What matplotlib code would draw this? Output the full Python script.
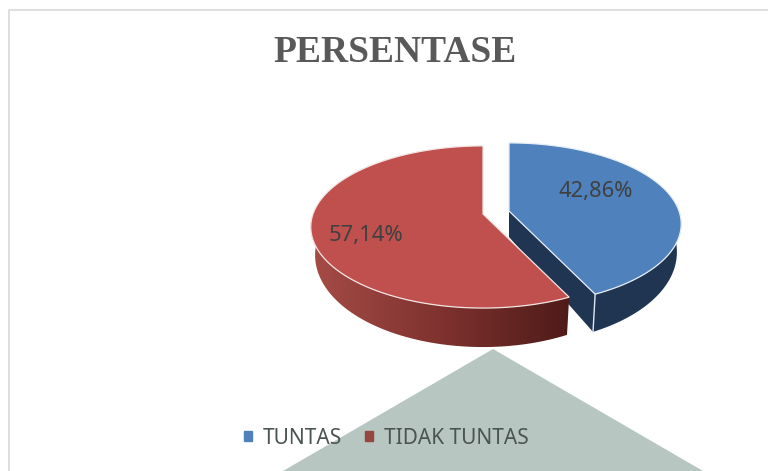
import matplotlib
matplotlib.use('Agg')
import matplotlib.pyplot as plt
from matplotlib.patches import Polygon, Patch
from matplotlib.colors import LinearSegmentedColormap
import numpy as np

categories = ['TUNTAS', 'TIDAK TUNTAS']
values = [42.86, 57.14]
labels = ['42,86%', '57,14%']
title = 'PERSENTASE'

# perspective of the tilted disc, in image pixels
K = 0.16
A = 79.0
B = 170.0


def rim(t, apex):
    # t in degrees clockwise from the back of the disc
    t = np.radians(t)
    u, v = np.sin(t), -np.cos(t)
    d = 1 - K * v
    return apex[0] + B * u / d, apex[1] + A * v / d


def under(t, apex):
    # same rim point on the lower face of the slab
    x, y = rim(t, apex)
    v = -np.cos(np.radians(t))
    return apex[0] + (x - apex[0]) * 0.975, y + 26 + 13 * v


fig = plt.figure(figsize=(7.68, 4.71), dpi=100)
ax = fig.add_axes([0, 0, 1, 1])
ax.set_xlim(0, 768)
ax.set_ylim(471, 0)
ax.axis('off')

# frame and the grey shape behind the chart
ax.plot([8.5, 8.5, 768], [471, 9.5, 9.5], color='#d9d9d9', lw=1.2)
ax.add_patch(Polygon([(493, 349), (703, 471), (283, 471)], fc='#b8c6c1', ec='none'))

end = 360 * values[0] / sum(values)
blue_apex = (509, 211)
red_apex = (483, 214)

# blue slice
ts = np.linspace(0, end, 120)
side = np.linspace(84, end, 80)
x, y = rim(side, blue_apex)
xb, yb = under(side, blue_apex)
ax.add_patch(Polygon(np.r_[np.c_[x, y], np.c_[xb, yb][::-1]], fc='#1f3552', ec='none'))
ex, ey = rim(end, blue_apex)
ebx, eby = under(end, blue_apex)
ax.add_patch(Polygon([blue_apex, (ex, ey), (ebx, eby), (blue_apex[0], blue_apex[1] + 26)],
                     fc='#1f3552', ec='none'))
ax.plot([ex, ebx], [ey, eby], color='#dfe6ee', lw=1)
x, y = rim(ts, blue_apex)
ax.add_patch(Polygon(np.r_[[blue_apex], np.c_[x, y]], fc='#4f81bd', ec='#e8eef5', lw=0.9))

# red slice, side wall shaded from left to right
ts = np.linspace(end, 360, 160)
side = np.linspace(end, 272, 100)
x, y = rim(side, red_apex)
xb, yb = under(side, red_apex)
wall = Polygon(np.r_[np.c_[x, y], np.c_[xb, yb][::-1]], fc='none', ec='none')
ax.add_patch(wall)
cmap = LinearSegmentedColormap.from_list('wall', ['#a64c47', '#7f322f', '#4e1b18'])
im = ax.imshow(np.linspace(0, 1, 256)[None, :], cmap=cmap, aspect='auto',
               extent=(x.min() - 2, x.max() + 1, 471, 0), zorder=1.5)
im.set_clip_path(wall)
ax.set_xlim(0, 768)
ax.set_ylim(471, 0)
x, y = rim(ts, red_apex)
ax.add_patch(Polygon(np.r_[[red_apex], np.c_[x, y]], fc='#c0504d', ec='#f2e4e3', lw=0.9, zorder=2))

# value labels
ax.text(596, 191, labels[0], ha='center', va='center', fontsize=15.8,
        family='Noto Sans', color='#404040', zorder=3)
ax.text(366, 236, labels[1], ha='center', va='center', fontsize=15.8,
        family='Noto Sans', color='#404040', zorder=3)

ax.text(395, 53, title, ha='center', va='center', fontsize=27, fontweight='bold',
        family='Liberation Serif', color='#595959')

handles = [Patch(color='#4f81bd', label=categories[0]), Patch(color='#94463f', label=categories[1])]
ax.legend(handles=handles, ncol=2, frameon=False, loc='center', bbox_to_anchor=(386.5, 438),
          bbox_transform=ax.transData, prop={'family': 'Noto Sans', 'size': 15},
          labelcolor='#4a5452', handlelength=0.35, handleheight=0.35, handletextpad=0.55,
          columnspacing=1.1)

fig.savefig('out.png', dpi=100)
